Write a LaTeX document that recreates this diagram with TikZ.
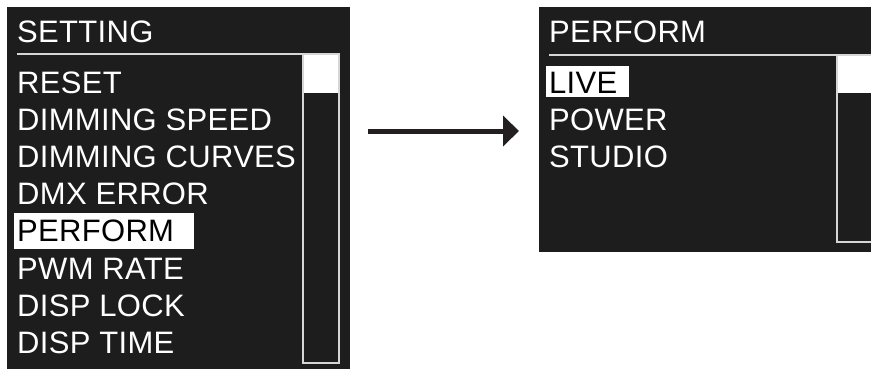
\documentclass[tikz,border=0pt]{standalone}
\usepackage{fontspec}
\setmainfont{Liberation Sans}[LetterSpace=1]
\usetikzlibrary{arrows.meta}

\begin{document}
\begin{tikzpicture}[x=1pt,y=-1pt,
  menuitem/.style={anchor=base west,inner sep=0pt,text=white,font=\fontsize{31}{36}\selectfont},
  menusel/.style={anchor=base west,inner xsep=3pt,inner ysep=0pt,fill=white,text=black,align=left,font=\fontsize{31}{36}\selectfont},
  frameline/.style={draw=frameColor,line width=1.5pt}]
\useasboundingbox (0,0) rectangle (871,369);
\definecolor{lcdColor}{RGB}{29,29,29}
\definecolor{frameColor}{RGB}{214,214,214}
\definecolor{arrowColor}{RGB}{35,31,32}
% left screen
\fill[lcdColor] (7,7) rectangle (350,369);
\node[menuitem] (setting) at (17,43) {SETTING};
\draw[frameline] (17,54) -- (303,54);
\fill[white] (303,54) rectangle (339,93);
\draw[frameline] (303,54) rectangle (339,363);
\foreach \y/\t/\n in {93/RESET/reset,130.2/DIMMING SPEED/speed,167.4/DIMMING CURVES/curves,
  204.6/DMX ERROR/dmx,279/PWM RATE/pwm,316.2/DISP LOCK/lock,353.4/DISP TIME/disptime}
  \node[menuitem] (\n) at (17,\y) {\t};
\node[menusel,text width=174pt,text height=29pt,text depth=7pt] (perform) at (14,241.8) {PERFORM};
% right screen
\fill[lcdColor] (539,7) rectangle (873,252);
\node[menuitem] (performtitle) at (549,43) {PERFORM};
\draw[frameline] (549,55) -- (873,55);
\fill[white] (837,55) rectangle (873,93);
\draw[frameline] (837,55) rectangle (873,242);
\node[menusel,text width=77pt,text height=27pt,text depth=4pt] (live) at (546,93) {LIVE};
\foreach \y/\t/\n in {130/POWER/power,167/STUDIO/studio}
  \node[menuitem] (\n) at (549,\y) {\t};
% arrow
\coordinate (arrowfrom) at (368,131);
\coordinate (arrowto) at (519,131);
\draw[arrowColor,line width=5pt,-{Triangle[length=16pt,width=30pt]}] (arrowfrom) -- (arrowto);
\end{tikzpicture}
\end{document}
